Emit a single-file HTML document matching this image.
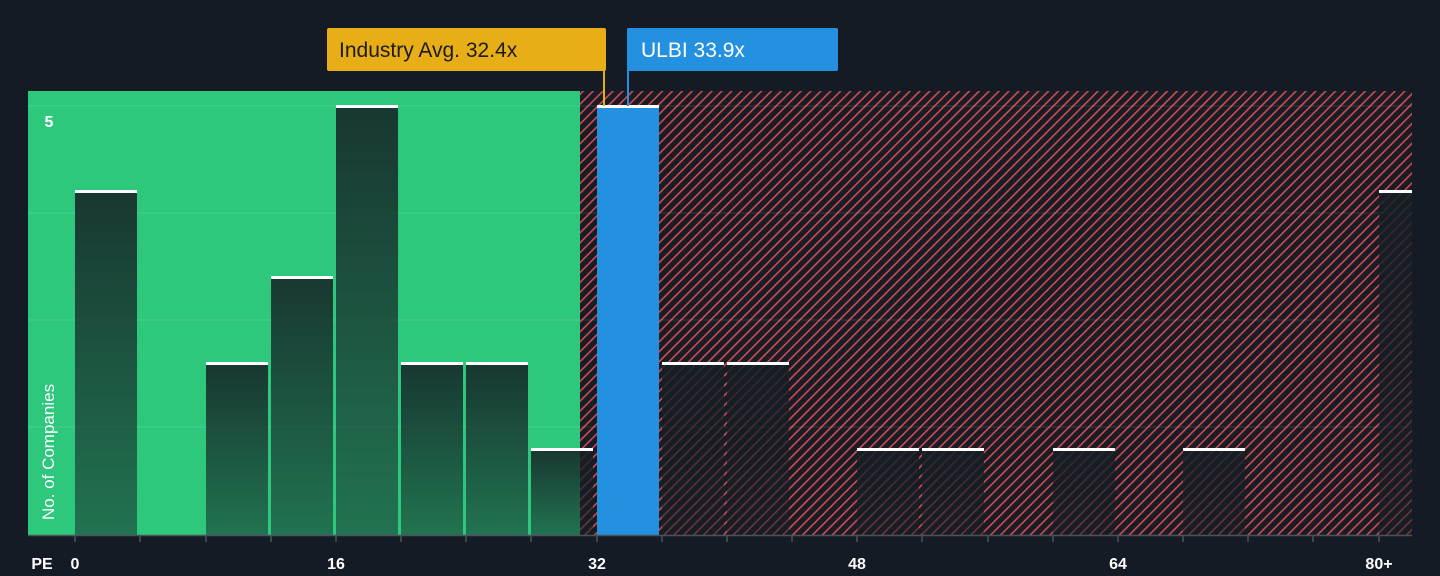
<!DOCTYPE html>
<html><head><style>
body{margin:0;background:#151b24;width:1440px;height:571px;overflow:hidden;font-family:"Liberation Sans",sans-serif}
</style></head><body>
<svg width="1440" height="571" xmlns="http://www.w3.org/2000/svg">
<defs>
<pattern id="h" width="7" height="7" patternUnits="userSpaceOnUse" patternTransform="rotate(45)">
<rect width="7" height="7" fill="#181c24"/>
<rect x="0" y="0" width="1.6" height="7" fill="#cf4b52"/>
</pattern>
<linearGradient id="g" x1="0" y1="0" x2="0" y2="1">
<stop offset="0" stop-color="#141e24" stop-opacity="0.85"/>
<stop offset="1" stop-color="#141e24" stop-opacity="0.5"/>
</linearGradient>
</defs>
<rect x="28" y="91" width="552" height="444" fill="#2ec87c"/>
<rect x="580" y="91" width="832" height="444" fill="url(#h)"/>
<g stroke="#ffffff" stroke-opacity="0.12" stroke-width="1">
<line x1="28" y1="106" x2="1412" y2="106"/><line x1="28" y1="213" x2="1412" y2="213"/>
<line x1="28" y1="320" x2="1412" y2="320"/><line x1="28" y1="427" x2="1412" y2="427"/>
</g>
<g fill="url(#g)">
<rect x="75" y="192" width="62" height="343"/>
<rect x="206" y="364" width="62" height="171"/>
<rect x="271" y="278" width="62" height="257"/>
<rect x="336" y="107" width="62" height="428"/>
<rect x="401" y="364" width="62" height="171"/>
<rect x="466" y="364" width="62" height="171"/>
<rect x="531" y="450" width="62" height="85"/>
<rect x="662" y="364" width="62" height="171"/>
<rect x="727" y="364" width="62" height="171"/>
<rect x="857" y="450" width="62" height="85"/>
<rect x="922" y="450" width="62" height="85"/>
<rect x="1053" y="450" width="62" height="85"/>
<rect x="1183" y="450" width="62" height="85"/>
<rect x="1379" y="192" width="33" height="343"/>
</g>
<rect x="597" y="107" width="62" height="428" fill="#2491e0"/>
<g fill="#fff">
<rect x="75" y="190" width="62" height="3"/>
<rect x="206" y="362" width="62" height="3"/>
<rect x="271" y="276" width="62" height="3"/>
<rect x="336" y="105" width="62" height="3"/>
<rect x="401" y="362" width="62" height="3"/>
<rect x="466" y="362" width="62" height="3"/>
<rect x="531" y="448" width="62" height="3"/>
<rect x="597" y="105" width="62" height="3"/>
<rect x="662" y="362" width="62" height="3"/>
<rect x="727" y="362" width="62" height="3"/>
<rect x="857" y="448" width="62" height="3"/>
<rect x="922" y="448" width="62" height="3"/>
<rect x="1053" y="448" width="62" height="3"/>
<rect x="1183" y="448" width="62" height="3"/>
<rect x="1379" y="190" width="33" height="3"/>
</g>
<line x1="28" y1="535.5" x2="1412" y2="535.5" stroke="#4a525c" stroke-width="1.5"/>
<g stroke="#4a525c" stroke-width="1.5">
<line x1="75" y1="535" x2="75" y2="542"/><line x1="140" y1="535" x2="140" y2="542"/><line x1="206" y1="535" x2="206" y2="542"/><line x1="271" y1="535" x2="271" y2="542"/><line x1="336" y1="535" x2="336" y2="542"/><line x1="401" y1="535" x2="401" y2="542"/><line x1="466" y1="535" x2="466" y2="542"/><line x1="531" y1="535" x2="531" y2="542"/><line x1="597" y1="535" x2="597" y2="542"/><line x1="662" y1="535" x2="662" y2="542"/><line x1="727" y1="535" x2="727" y2="542"/><line x1="792" y1="535" x2="792" y2="542"/><line x1="857" y1="535" x2="857" y2="542"/><line x1="922" y1="535" x2="922" y2="542"/><line x1="988" y1="535" x2="988" y2="542"/><line x1="1053" y1="535" x2="1053" y2="542"/><line x1="1118" y1="535" x2="1118" y2="542"/><line x1="1183" y1="535" x2="1183" y2="542"/><line x1="1248" y1="535" x2="1248" y2="542"/><line x1="1313" y1="535" x2="1313" y2="542"/><line x1="1379" y1="535" x2="1379" y2="542"/>
</g>
<g fill="#fff" font-size="16" font-weight="bold" text-anchor="middle">
<text x="42" y="569">PE</text><text x="75" y="569">0</text><text x="336" y="569">16</text><text x="597" y="569">32</text><text x="857" y="569">48</text><text x="1118" y="569">64</text><text x="1379" y="569">80+</text>
<text x="49" y="127" font-size="16">5</text>
</g>
<text transform="translate(54,520) rotate(-90)" fill="#fff" font-size="17">No. of Companies</text>
<line x1="604" y1="70" x2="604" y2="106" stroke="#e8ae17" stroke-width="2"/>
<rect x="327" y="28" width="279" height="43" rx="2" fill="#e8ae17"/>
<text x="339" y="57" font-size="21" fill="#1c1c1c">Industry Avg. 32.4x</text>
<line x1="628" y1="70" x2="628" y2="106" stroke="#2491e0" stroke-width="2"/>
<rect x="627" y="28" width="211" height="43" rx="2" fill="#2491e0"/>
<text x="641" y="57" font-size="21" fill="#fff">ULBI 33.9x</text>
</svg>
</body></html>
